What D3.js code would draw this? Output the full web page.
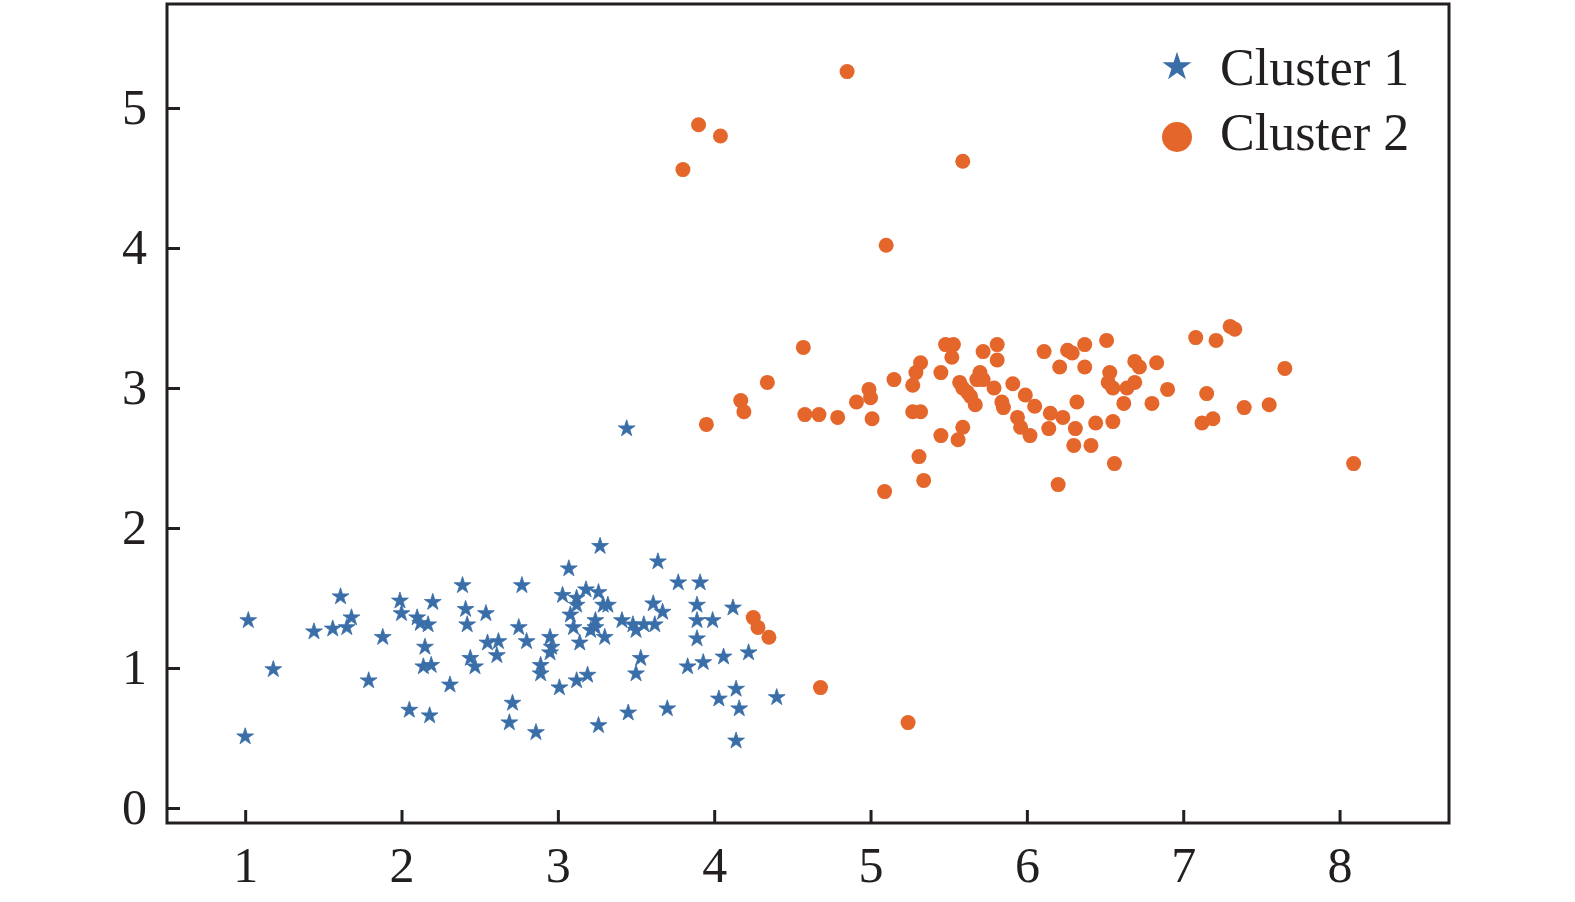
<!DOCTYPE html>
<html>
<head>
<meta charset="utf-8">
<script src="https://cdn.jsdelivr.net/npm/d3@7"></script>
<style>
  html, body { margin: 0; padding: 0; background: #fff; }
  svg { display: block; }
</style>
</head>
<body>
<svg id="chart" width="1575" height="902"></svg>
<script>
// ---- data ----
const seriesNames = ["Cluster 1", "Cluster 2"];
const xTicks = [1, 2, 3, 4, 5, 6, 7, 8];
const yTicks = [0, 1, 2, 3, 4, 5];

const cluster1X = [1.02,1.18,1.00,1.44,1.56,1.61,1.65,1.68,1.88,1.79,1.99,2.00,2.10,2.12,2.17,2.20,2.15,2.14,2.19,2.31,2.05,2.18,2.39,2.41,2.42,2.44,2.47,
  3.27,3.64,3.07,2.77,3.77,3.91,3.03,3.12,3.18,3.26,3.12,3.08,3.10,3.24,3.21,3.29,3.32,3.14,3.30,3.24,3.61,3.67,3.41,3.48,3.55,3.62,3.50,3.89,3.89,3.99,4.12,3.89,
  2.54,2.75,2.55,2.62,2.61,2.80,2.95,2.96,2.95,2.89,2.89,3.53,3.50,3.83,3.93,4.06,4.22,3.12,3.19,3.01,2.71,2.69,2.86,3.26,3.45,3.70,4.03,4.14,4.16,4.14,4.40,3.44];
const cluster1Y = [1.34,0.99,0.51,1.26,1.28,1.51,1.29,1.36,1.22,0.91,1.48,1.39,1.36,1.32,1.31,1.47,1.15,1.01,1.02,0.88,0.70,0.66,1.59,1.42,1.31,1.07,1.01,
  1.87,1.76,1.71,1.59,1.61,1.61,1.52,1.50,1.56,1.54,1.45,1.38,1.29,1.34,1.27,1.45,1.45,1.18,1.22,1.29,1.46,1.40,1.34,1.31,1.31,1.31,1.27,1.45,1.34,1.34,1.43,1.21,
  1.39,1.29,1.18,1.19,1.09,1.19,1.22,1.15,1.11,1.02,0.96,1.07,0.96,1.01,1.04,1.08,1.11,0.91,0.95,0.86,0.75,0.61,0.54,0.59,0.68,0.71,0.78,0.85,0.71,0.48,0.79,2.71];

const cluster2X = [3.95,4.17,4.19,4.25,4.28,4.35,4.34,4.57,4.58,4.68,4.67,4.79,4.85,4.91,4.99,5.00,5.01,5.10,5.09,5.15,5.24,5.27,5.29,5.32,5.27,5.32,5.31,5.34,
  5.45,5.48,5.53,5.52,5.45,5.59,5.56,5.59,5.57,5.59,5.62,5.64,5.67,5.68,5.70,5.72,5.72,5.81,5.81,5.79,5.84,5.85,5.91,5.99,6.05,5.94,5.96,6.02,
  6.11,6.21,6.26,6.29,6.37,6.51,6.37,6.14,6.15,6.23,6.32,6.31,6.30,6.41,6.44,6.55,6.53,6.52,6.55,6.62,6.69,6.72,6.83,6.69,6.64,6.90,6.80,6.56,6.20,
  7.08,7.21,7.30,7.33,7.15,7.12,7.19,7.39,7.55,7.65,8.09,3.90,4.04,3.80];
const cluster2Y = [2.74,2.91,2.83,1.36,1.29,1.22,3.04,3.29,2.81,0.86,2.81,2.79,5.26,2.90,2.99,2.93,2.78,4.02,2.26,3.06,0.61,3.02,3.11,3.18,2.83,2.83,2.51,2.34,
  3.11,3.31,3.31,3.22,2.66,2.72,2.63,4.62,3.04,3.00,2.97,2.94,2.88,3.06,3.11,3.06,3.26,3.31,3.20,3.00,2.90,2.86,3.03,2.95,2.87,2.79,2.72,2.66,
  3.26,3.15,3.27,3.25,3.31,3.34,3.15,2.71,2.82,2.79,2.90,2.71,2.59,2.59,2.75,2.76,3.11,3.04,3.00,2.89,3.19,3.15,3.18,3.04,3.00,2.99,2.89,2.46,2.31,
  3.36,3.34,3.44,3.42,2.96,2.75,2.78,2.86,2.88,3.14,2.46,4.88,4.80,4.56];

// ---- styles ----
const blue = "#3a6ea8";
const orange = "#e4662b";
const ink = "#231f20";
const fontFamily = "'Liberation Serif', 'Times New Roman', Times, serif";

// ---- layout ----
const plot = { left: 167, top: 4, right: 1449, bottom: 823 };

const svg = d3.select("#chart");

const x = d3.scaleLinear().domain([0.5, 8.70]).range([plot.left, plot.right]);
const y = d3.scaleLinear().domain([-0.107, 5.743]).range([plot.bottom, plot.top]);

// axes (ticks pointing inward)
const xAxis = d3.axisBottom(x).tickValues(xTicks).tickFormat(d3.format("d"))
  .tickSizeInner(-13).tickSizeOuter(0);
const yAxis = d3.axisLeft(y).tickValues(yTicks).tickFormat(d3.format("d"))
  .tickSizeInner(-13).tickSizeOuter(0);

const gx = svg.append("g").attr("transform", `translate(0,${plot.bottom})`).call(xAxis);
const gy = svg.append("g").attr("transform", `translate(${plot.left},0)`).call(yAxis);

[gx, gy].forEach(g => {
  g.select(".domain").remove();
  g.selectAll(".tick line").attr("stroke", ink).attr("stroke-width", 3);
  g.selectAll(".tick text")
    .attr("fill", ink)
    .style("font-family", fontFamily)
    .style("font-size", "50px");
});
gx.selectAll(".tick text").attr("y", 59).attr("dy", null);
gy.selectAll(".tick text").attr("x", -20).attr("dy", "0.3em");

// frame
svg.append("rect")
  .attr("x", plot.left).attr("y", plot.top)
  .attr("width", plot.right - plot.left).attr("height", plot.bottom - plot.top)
  .attr("fill", "none").attr("stroke", ink).attr("stroke-width", 3);

// points
const starPath = d3.symbol().type(d3.symbolStar).size(88);
const c1 = cluster1X.map((v, i) => ({ x: v, y: cluster1Y[i] }));
const c2 = cluster2X.map((v, i) => ({ x: v, y: cluster2Y[i] }));

svg.append("g").selectAll("path").data(c1).join("path")
  .attr("d", starPath())
  .attr("transform", d => `translate(${x(d.x)},${y(d.y)})`)
  .attr("fill", blue)
  .attr("stroke", blue).attr("stroke-width", 0.8).attr("stroke-linejoin", "round");

svg.append("g").selectAll("circle").data(c2).join("circle")
  .attr("cx", d => x(d.x)).attr("cy", d => y(d.y))
  .attr("r", 7.5)
  .attr("fill", orange);

// legend
const legend = svg.append("g").attr("transform", "translate(1177,67)");
legend.append("path")
  .attr("d", d3.symbol().type(d3.symbolStar).size(260)())
  .attr("fill", blue);
legend.append("circle").attr("cx", 0).attr("cy", 70).attr("r", 15).attr("fill", orange);
legend.selectAll("text").data(seriesNames).join("text")
  .attr("x", 43)
  .attr("y", (d, i) => 18 + i * 65)
  .attr("fill", ink)
  .style("font-family", fontFamily)
  .style("font-size", "52px")
  .text(d => d);
</script>
</body>
</html>
